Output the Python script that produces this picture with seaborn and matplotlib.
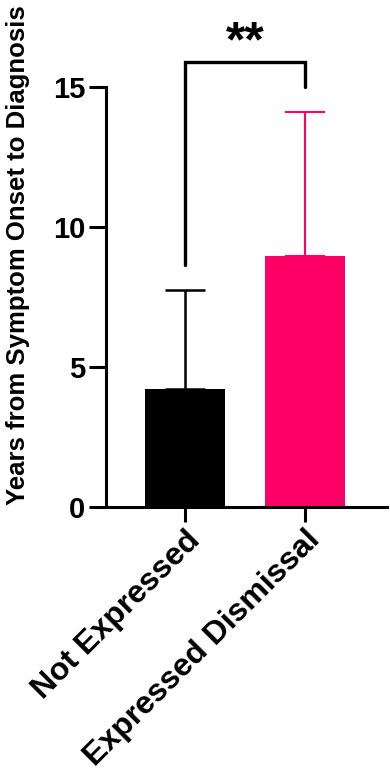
import numpy as np
import pandas as pd
import matplotlib
matplotlib.use("Agg")
import matplotlib.pyplot as plt
import seaborn as sns

# data
groups = ["Not Expressed", "Expressed Dismissal"]
means = [4.2, 8.95]
sd_upper = [3.55, 5.15]
bar_colors = ["#000000", "#FF0066"]
sig_label = "**"
sig_bracket_y = 15.9
sig_leg_bottom = [8.65, 15.0]

sns.set_theme(style="ticks", rc={"text.color": "black", "axes.labelcolor": "black",
                                 "xtick.color": "black", "ytick.color": "black",
                                 "axes.edgecolor": "black"})
plt.rcParams["font.family"] = ["Liberation Sans", "DejaVu Sans"]
plt.rcParams["font.weight"] = "bold"

df = pd.DataFrame({"group": groups, "years": means})

fig = plt.figure(figsize=(3.9, 7.78), dpi=100)
ax = fig.add_axes([0.272, 0.3483, 0.72, 0.612])

sns.barplot(data=df, x="group", y="years", hue="group", palette=bar_colors,
            saturation=1, width=0.667, linewidth=0, legend=False, ax=ax)

# upper-only error bars
for i, (m, s, c) in enumerate(zip(means, sd_upper, bar_colors)):
    ax.errorbar(i, m, yerr=[[0], [s]], color=c, capsize=14.5,
                elinewidth=1.8 if i == 0 else 1.5,
                capthick=1.8 if i == 0 else 1.5, zorder=1)

# significance bracket
ax.plot([0, 0, 1, 1], [sig_leg_bottom[0], sig_bracket_y, sig_bracket_y, sig_leg_bottom[1]],
        color="black", lw=2.4, solid_joinstyle="miter", clip_on=False)
ax.text(0.5, sig_bracket_y - 0.15, sig_label, ha="center", va="bottom",
        fontsize=36, fontweight="bold")

ax.set_xlim(-0.66, 1.68)
ax.set_ylim(0, 17)
ax.set_yticks([0, 5, 10, 15])
ax.spines["left"].set_bounds(0, 15)
ax.spines["top"].set_visible(False)
ax.spines["right"].set_visible(False)
for side in ["left", "bottom"]:
    ax.spines[side].set_linewidth(2.2)

ax.tick_params(axis="y", length=12, width=2.2, pad=3, labelsize=21)
ax.tick_params(axis="x", length=11, width=2.2, pad=2, labelsize=23)
plt.setp(ax.get_xticklabels(), rotation=45, ha="right", rotation_mode="anchor",
         fontweight="bold")
plt.setp(ax.get_yticklabels(), fontweight="bold")

ax.set_xlabel("")
ax.set_ylabel("Years from Symptom Onset to Diagnosis", fontsize=18.5,
              fontweight="bold")
ax.yaxis.set_label_coords(-0.27, 0.53)

fig.savefig("out.png", dpi=100)
